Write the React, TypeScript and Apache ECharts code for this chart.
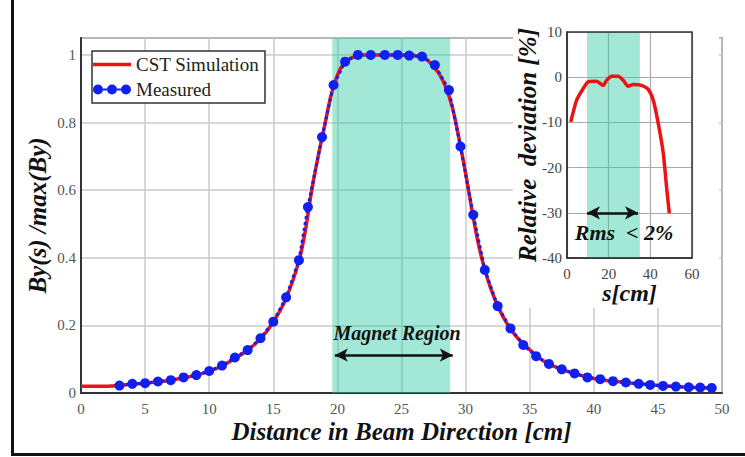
import React, { useEffect, useRef } from 'react';
import * as echarts from 'echarts';

// CST simulation (red line)
const cstS = [0, 1, 2, 2.5, 3, 4, 5, 6, 7, 8, 9, 10, 11, 12, 13, 14, 15, 16, 17, 17.5, 18, 18.5, 19, 19.5, 20, 20.5, 21, 22, 23, 24, 25, 26, 26.5, 27, 27.5, 28, 28.5, 29, 29.5, 30, 30.5, 31, 31.5, 32, 32.5, 33, 33.5, 34, 35, 36, 37, 38, 39, 40, 41, 42, 43, 44, 45, 46, 47, 48, 49];
const cstV = [0.02, 0.02, 0.02, 0.021, 0.022, 0.026, 0.029, 0.033, 0.038, 0.045, 0.053, 0.064, 0.08, 0.102, 0.127, 0.16, 0.21, 0.28, 0.39, 0.48, 0.6, 0.7, 0.79, 0.88, 0.94, 0.975, 0.99, 1.0, 1.0, 1.0, 1.0, 0.998, 0.995, 0.985, 0.965, 0.94, 0.9, 0.84, 0.75, 0.65, 0.54, 0.44, 0.365, 0.305, 0.258, 0.22, 0.19, 0.165, 0.128, 0.097, 0.077, 0.063, 0.052, 0.043, 0.037, 0.033, 0.029, 0.026, 0.022, 0.02, 0.018, 0.016, 0.015];

// Measured (blue markers)
const measS = [3, 4, 5, 6, 7, 8, 9, 10, 11, 12, 13, 14, 15, 16, 17, 17.7, 18.8, 19.7, 20.6, 21.6, 22.6, 23.7, 24.7, 25.6, 26.6, 27.6, 28.7, 29.6, 30.6, 31.5, 32.5, 33.5, 34.5, 35.5, 36.5, 37.5, 38.5, 39.5, 40.5, 41.5, 42.5, 43.5, 44.4, 45.4, 46.4, 47.4, 48.3, 49.2];
const measV = [0.022, 0.027, 0.029, 0.034, 0.038, 0.046, 0.053, 0.065, 0.081, 0.105, 0.127, 0.162, 0.211, 0.283, 0.393, 0.55, 0.757, 0.911, 0.98, 1.0, 1.0, 1.0, 1.0, 0.998, 0.995, 0.97, 0.896, 0.729, 0.527, 0.364, 0.257, 0.191, 0.142, 0.109, 0.086, 0.07, 0.058, 0.046, 0.041, 0.035, 0.031, 0.027, 0.024, 0.021, 0.019, 0.017, 0.016, 0.015];

// Inset: relative deviation [%]
const devS = [1.8, 4.6, 7.8, 10.2, 14.2, 17.4, 19, 21.4, 24.6, 27, 29.4, 31.8, 35.8, 39, 41.4, 43.8, 46.2, 47.8, 49.1];
const devV = [-9.9, -5.1, -2.5, -1.0, -0.9, -1.8, -0.7, 0.2, 0.2, -0.7, -2.0, -1.6, -1.8, -2.7, -5.1, -10.2, -16.8, -24.3, -30.1];

const magnetRegion = [19.6, 28.8];
const magnetArrow = [19.8, 29.0, 0.112];
const magnetLabel = [24.65, 0.178];
const rmsRegion = [9.6, 35];
const rmsArrow = [9.6, 34.1, -30];
const rmsLabel = [27.4, -34.3];

const SERIF = 'Liberation Serif, Times New Roman, serif';
const TEAL = 'rgba(50, 205, 165, 0.45)';
const RED = '#ee1212';
const BLUE = '#1020ee';

const titleStyle = { fontFamily: SERIF, fontStyle: 'italic', fontWeight: 'bold', color: '#111' } as const;

export default function App() {
  const ref = useRef<HTMLDivElement>(null);
  useEffect(() => {
    document.body.style.margin = '0';
    const chart = echarts.init(ref.current!, null, { renderer: 'svg' });
    chart.setOption({
      animation: false,
      backgroundColor: '#fff',
      grid: [
        { left: 81, top: 38, width: 641, height: 355, show: true, borderColor: '#555', borderWidth: 1.5, z: 0 },
        { left: 567, top: 32, width: 125, height: 226, show: true, borderColor: '#333', borderWidth: 1.5, backgroundColor: 'transparent', z: 6 },
      ],
      legend: {
        orient: 'vertical',
        left: 92,
        top: 51,
        padding: [4, 6, 4, 1],
        itemGap: 6,
        itemWidth: 38,
        itemHeight: 11,
        backgroundColor: '#fff',
        borderColor: '#333',
        borderWidth: 1.5,
        textStyle: { fontFamily: SERIF, fontSize: 19, color: '#222' },
        data: [
          { name: 'CST Simulation', icon: 'path://M0,0h38v3.5h-38z' },
          {
            name: 'Measured',
            icon: 'path://M0,5a5,5 0 1,0 10,0a5,5 0 1,0 -10,0z M10,4h4v2h-4z M14,5a5,5 0 1,0 10,0a5,5 0 1,0 -10,0z M24,4h4v2h-4z M28,5a5,5 0 1,0 10,0a5,5 0 1,0 -10,0z',
          },
        ],
      },
      xAxis: [
        {
          type: 'value', gridIndex: 0, min: 0, max: 50, interval: 5,
          axisLine: { show: true, onZero: false, lineStyle: { color: '#333', width: 2 } },
          axisTick: { show: false },
          splitLine: { show: true, lineStyle: { color: '#cacaca', width: 1.5 } },
          axisLabel: { fontFamily: SERIF, fontSize: 15, color: '#555', margin: 8 },
          name: 'Distance in Beam Direction [cm]', nameLocation: 'middle', nameGap: 26, nameMoveOverlap: false,
          nameTextStyle: { ...titleStyle, fontSize: 25 },
        },
        {
          type: 'value', gridIndex: 1, min: 0, max: 60, interval: 20, z: 4,
          axisLine: { show: true, onZero: false, lineStyle: { color: '#333', width: 1.5 } },
          axisTick: { show: false },
          splitLine: { show: true, lineStyle: { color: '#aaa', width: 1.2 } },
          axisLabel: { fontFamily: SERIF, fontSize: 15, color: '#444', margin: 8 },
          name: 's[cm]', nameLocation: 'middle', nameGap: 23, nameMoveOverlap: false,
          nameTextStyle: { ...titleStyle, fontSize: 24 },
        },
      ],
      yAxis: [
        {
          type: 'value', gridIndex: 0, min: 0, max: 1.05, interval: 0.2,
          axisLine: { show: true, onZero: false, lineStyle: { color: '#333', width: 2 } },
          axisTick: { show: false },
          splitLine: { show: true, lineStyle: { color: '#cacaca', width: 1.5 } },
          axisLabel: {
            fontFamily: SERIF, fontSize: 15, color: '#555', margin: 5,
            formatter: (v: number) => (Math.abs(v * 5 - Math.round(v * 5)) < 1e-6 ? String(Math.round(v * 5) / 5) : ''),
          },
          name: 'By(s) /max(By)', nameLocation: 'middle', nameGap: 31, nameRotate: 90, nameMoveOverlap: false,
          nameTextStyle: { ...titleStyle, fontSize: 25 },
        },
        {
          type: 'value', gridIndex: 1, min: -40, max: 10, interval: 10, z: 4,
          axisLine: { show: true, onZero: false, lineStyle: { color: '#333', width: 1.5 } },
          axisTick: { show: false },
          splitLine: { show: true, lineStyle: { color: '#aaa', width: 1.2 } },
          axisLabel: { fontFamily: SERIF, fontSize: 15, color: '#444', margin: 5 },
          name: 'Relative  deviation [%]', nameLocation: 'middle', nameGap: 27, nameRotate: 90, nameMoveOverlap: false,
          nameTextStyle: { ...titleStyle, fontSize: 25 },
        },
      ],
      graphic: [
        { type: 'rect', z: 3, silent: true, shape: { x: 513, y: 36, width: 206, height: 272 }, style: { fill: '#fff' } },
        { type: 'line', z: 10, silent: true, shape: { x1: 12.5, y1: 0, x2: 12.5, y2: 456 }, style: { stroke: '#111', lineWidth: 3 } },
        { type: 'line', z: 10, silent: true, shape: { x1: 11, y1: 454.5, x2: 745, y2: 454.5 }, style: { stroke: '#111', lineWidth: 3 } },
      ],
      series: [
        {
          name: 'CST Simulation', type: 'line', xAxisIndex: 0, yAxisIndex: 0,
          data: cstS.map((s, i) => [s, cstV[i]]),
          showSymbol: false, smooth: 0.3, z: 2,
          itemStyle: { color: RED },
          lineStyle: { color: RED, width: 3.5 },
          markArea: {
            silent: true, z: 1,
            itemStyle: { color: TEAL },
            data: [[{ xAxis: magnetRegion[0] }, { xAxis: magnetRegion[1] }]],
          },
        },
        {
          name: 'Measured', type: 'line', xAxisIndex: 0, yAxisIndex: 0,
          data: measS.map((s, i) => [s, measV[i]]),
          symbol: 'circle', symbolSize: 10, z: 2,
          itemStyle: { color: BLUE },
          lineStyle: { color: BLUE, width: 3, type: 'dotted' },
          markLine: {
            silent: true, symbol: ['arrow', 'arrow'], symbolSize: [10, 13],
            label: { show: false },
            lineStyle: { color: '#111', width: 2.5, type: 'solid' },
            data: [[{ coord: [magnetArrow[0], magnetArrow[2]] }, { coord: [magnetArrow[1], magnetArrow[2]] }]],
          },
          markPoint: {
            silent: true, symbol: 'circle', symbolSize: 1,
            itemStyle: { color: 'rgba(0,0,0,0)' },
            label: { show: true, position: 'inside', formatter: 'Magnet Region', ...titleStyle, fontSize: 20 },
            data: [{ coord: magnetLabel }],
          },
        },
        {
          name: 'Deviation', type: 'line', xAxisIndex: 1, yAxisIndex: 1,
          data: devS.map((s, i) => [s, devV[i]]),
          showSymbol: false, smooth: 0.2, z: 7,
          itemStyle: { color: RED },
          lineStyle: { color: RED, width: 3.5 },
          markArea: {
            silent: true, z: 5,
            itemStyle: { color: TEAL },
            data: [[{ xAxis: rmsRegion[0] }, { xAxis: rmsRegion[1] }]],
          },
          markLine: {
            silent: true, z: 8, symbol: ['arrow', 'arrow'], symbolSize: [10, 13],
            label: { show: false },
            lineStyle: { color: '#111', width: 2.5, type: 'solid' },
            data: [[{ coord: [rmsArrow[0], rmsArrow[2]] }, { coord: [rmsArrow[1], rmsArrow[2]] }]],
          },
          markPoint: {
            silent: true, z: 8, symbol: 'circle', symbolSize: 1,
            itemStyle: { color: 'rgba(0,0,0,0)' },
            label: { show: true, position: 'inside', formatter: 'Rms  < 2%', ...titleStyle, fontSize: 22 },
            data: [{ coord: rmsLabel }],
          },
        },
      ],
    });
    return () => chart.dispose();
  }, []);
  return <div ref={ref} style={{ width: 745, height: 457 }} />;
}
